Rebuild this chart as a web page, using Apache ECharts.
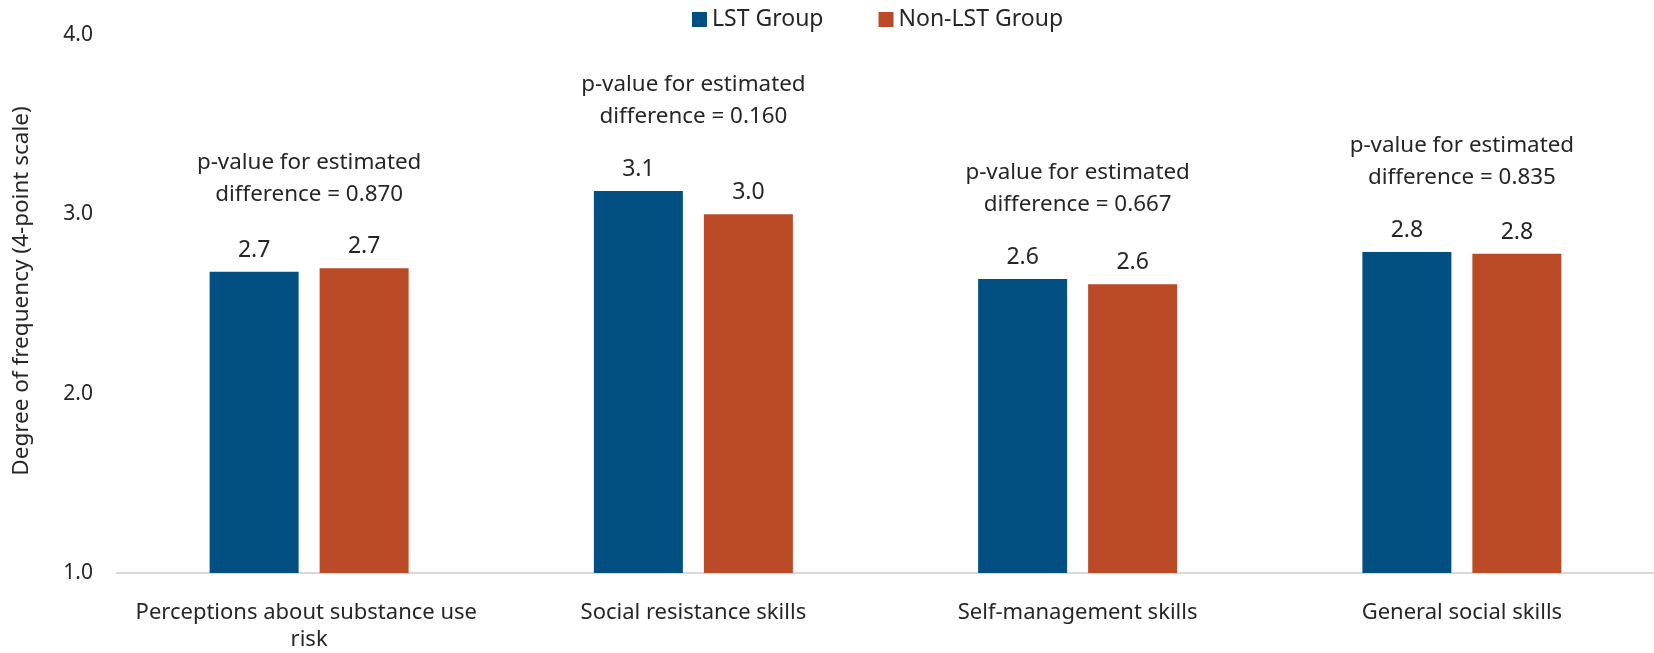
<!DOCTYPE html>
<html>
<head>
<meta charset="utf-8">
<title>LST vs Non-LST</title>
<script src="https://cdn.jsdelivr.net/npm/echarts@6/dist/echarts.min.js"></script>
<style>
  html, body { margin: 0; padding: 0; background: #fff; }
  #chart { width: 1654px; height: 653px; }
</style>
</head>
<body>
<div id="chart"></div>
<script>
const categories = [
  "Perceptions about substance use risk",
  "Social resistance skills",
  "Self-management skills",
  "General social skills",
];
const lstGroup = [2.68, 3.13, 2.64, 2.79];
const nonLstGroup = [2.7, 3.0, 2.61, 2.78];
const pValues = ["0.870", "0.160", "0.667", "0.835"];
const yMin = 1;
const yMax = 4;
const yStep = 1;

const font = "Noto Sans";
const textColor = "#262626";

// annotation sits on top of the taller bar of each group
const groupTops = categories.map((c, i) => Math.max(lstGroup[i], nonLstGroup[i]));

const myChart = echarts.init(document.getElementById("chart"));
const option = {
  animation: false,
  color: ["#024f82", "#bb4a26"],
  textStyle: { fontFamily: font, color: textColor },
  legend: {
    data: ["LST Group", "Non-LST Group"],
    top: 8,
    left: 692,
    padding: 0,
    itemWidth: 15,
    itemHeight: 15,
    itemGap: 55,
    icon: "rect",
    textStyle: { fontFamily: font, fontSize: 23, color: textColor },
  },
  grid: {
    left: 117,
    top: 35,
    bottom: 78,
    width: 1544,
  },
  xAxis: {
    type: "category",
    data: categories,
    axisTick: { show: false },
    axisLine: { lineStyle: { color: "#d9d9d9", width: 2 } },
    axisLabel: {
      interval: 0,
      margin: 26,
      fontFamily: font,
      fontSize: 22,
      lineHeight: 27,
      color: textColor,
      width: 360,
      overflow: "break",
    },
  },
  yAxis: {
    type: "value",
    min: yMin,
    max: yMax,
    interval: yStep,
    name: "Degree of frequency (4-point scale)",
    nameLocation: "middle",
    nameGap: 84,
    nameTextStyle: {
      fontFamily: font,
      fontSize: 22.5,
      color: textColor,
      padding: [0, 0, 0, 26],
    },
    splitLine: { show: false },
    axisLine: { show: false },
    axisTick: { show: false },
    axisLabel: {
      margin: 24,
      fontFamily: font,
      fontSize: 21,
      color: textColor,
      formatter: (v) => v.toFixed(1),
    },
  },
  series: [
    {
      name: "LST Group",
      type: "bar",
      barWidth: 89,
      barGap: "23.6%",
      data: lstGroup,
      label: {
        show: true,
        position: "top",
        distance: 10,
        fontFamily: font,
        fontSize: 23,
        color: textColor,
        formatter: (p) => p.value.toFixed(1),
      },
    },
    {
      name: "Non-LST Group",
      type: "bar",
      barWidth: 89,
      data: nonLstGroup,
      label: {
        show: true,
        position: "top",
        distance: 10,
        fontFamily: font,
        fontSize: 23,
        color: textColor,
        formatter: (p) => p.value.toFixed(1),
      },
    },
    {
      name: "p-value",
      type: "scatter",
      symbolSize: 0,
      silent: true,
      itemStyle: { opacity: 1 },
      data: groupTops,
      label: {
        show: true,
        position: "top",
        distance: 58,
        fontFamily: font,
        fontSize: 22.4,
        lineHeight: 32,
        align: "center",
        color: textColor,
        formatter: (p) => "p-value for estimated\ndifference = " + pValues[p.dataIndex],
      },
    },
  ],
};

myChart.setOption(option);
window.addEventListener("resize", () => myChart.resize());
</script>
</body>
</html>
